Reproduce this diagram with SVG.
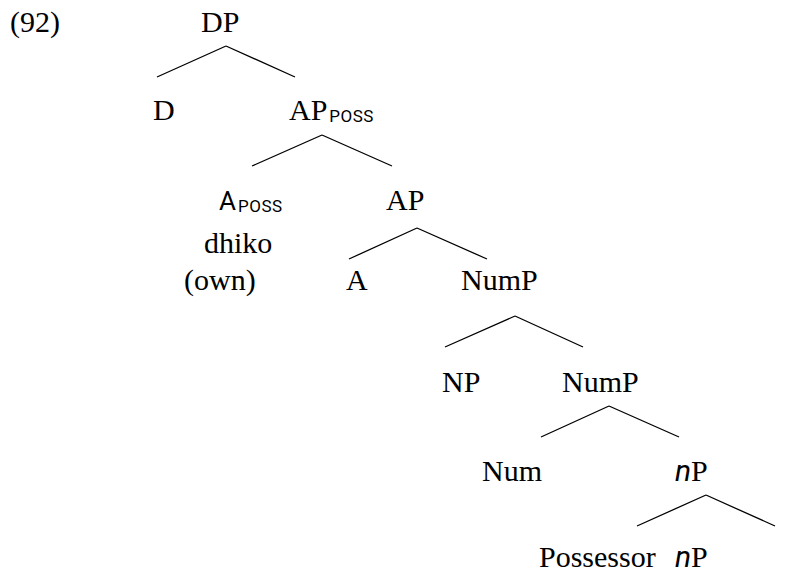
<svg xmlns="http://www.w3.org/2000/svg" width="804" height="574" viewBox="0 0 804 574">
<style>
.t{font-family:"Liberation Serif","Times New Roman",serif;font-size:30px;fill:#000}
.s{font-family:Roboto,"Liberation Sans",sans-serif;fill:#000}
.sub{font-family:Roboto,"Liberation Sans",sans-serif;font-size:17px;letter-spacing:0.5px;fill:#000}
.e{stroke:#000;stroke-width:1.3;fill:none}
</style>
<rect width="804" height="574" fill="#fff"/>
<text class="t" x="10" y="32">(92)</text>
<g id="edges">
<path class="e" d="M226,46L157,77M226,46L295,77"/>
<path class="e" d="M322,135L252,166M322,135L392,166"/>
<path class="e" d="M417,228L349,259M417,228L487,259"/>
<path class="e" d="M515,316L445,347M515,316L583,347"/>
<path class="e" d="M609,406L541,437M609,406L679,437"/>
<path class="e" d="M706,495L637,526M706,495L775,526"/>
</g>
<g id="dp"><text class="t" x="201" y="32">DP</text></g>
<g id="d"><text class="t" x="153" y="120">D</text></g>
<g id="apposs"><text class="t" x="289" y="120">AP<tspan class="sub" dx="2" dy="2">POSS</tspan></text></g>
<g id="aposs"><text class="s" x="219" y="210" font-size="26">A<tspan class="sub" dx="2" dy="2">POSS</tspan></text>
<text class="t" x="204" y="253">dhiko</text>
<text class="t" x="184" y="290">(own)</text></g>
<g id="ap"><text class="t" x="386" y="210">AP</text></g>
<g id="a"><text class="t" x="346" y="290">A</text></g>
<g id="nump1"><text class="t" x="461" y="290">NumP</text></g>
<g id="np"><text class="t" x="442" y="392">NP</text></g>
<g id="nump2"><text class="t" x="562" y="392">NumP</text></g>
<g id="num"><text class="t" x="482" y="481">Num</text></g>
<g id="np1"><text class="t" x="675" y="481"><tspan class="s" font-style="italic">n</tspan>P</text></g>
<g id="possessor"><text class="t" x="539" y="567">Possessor</text></g>
<g id="np2"><text class="t" x="675" y="567"><tspan class="s" font-style="italic">n</tspan>P</text></g>
</svg>
